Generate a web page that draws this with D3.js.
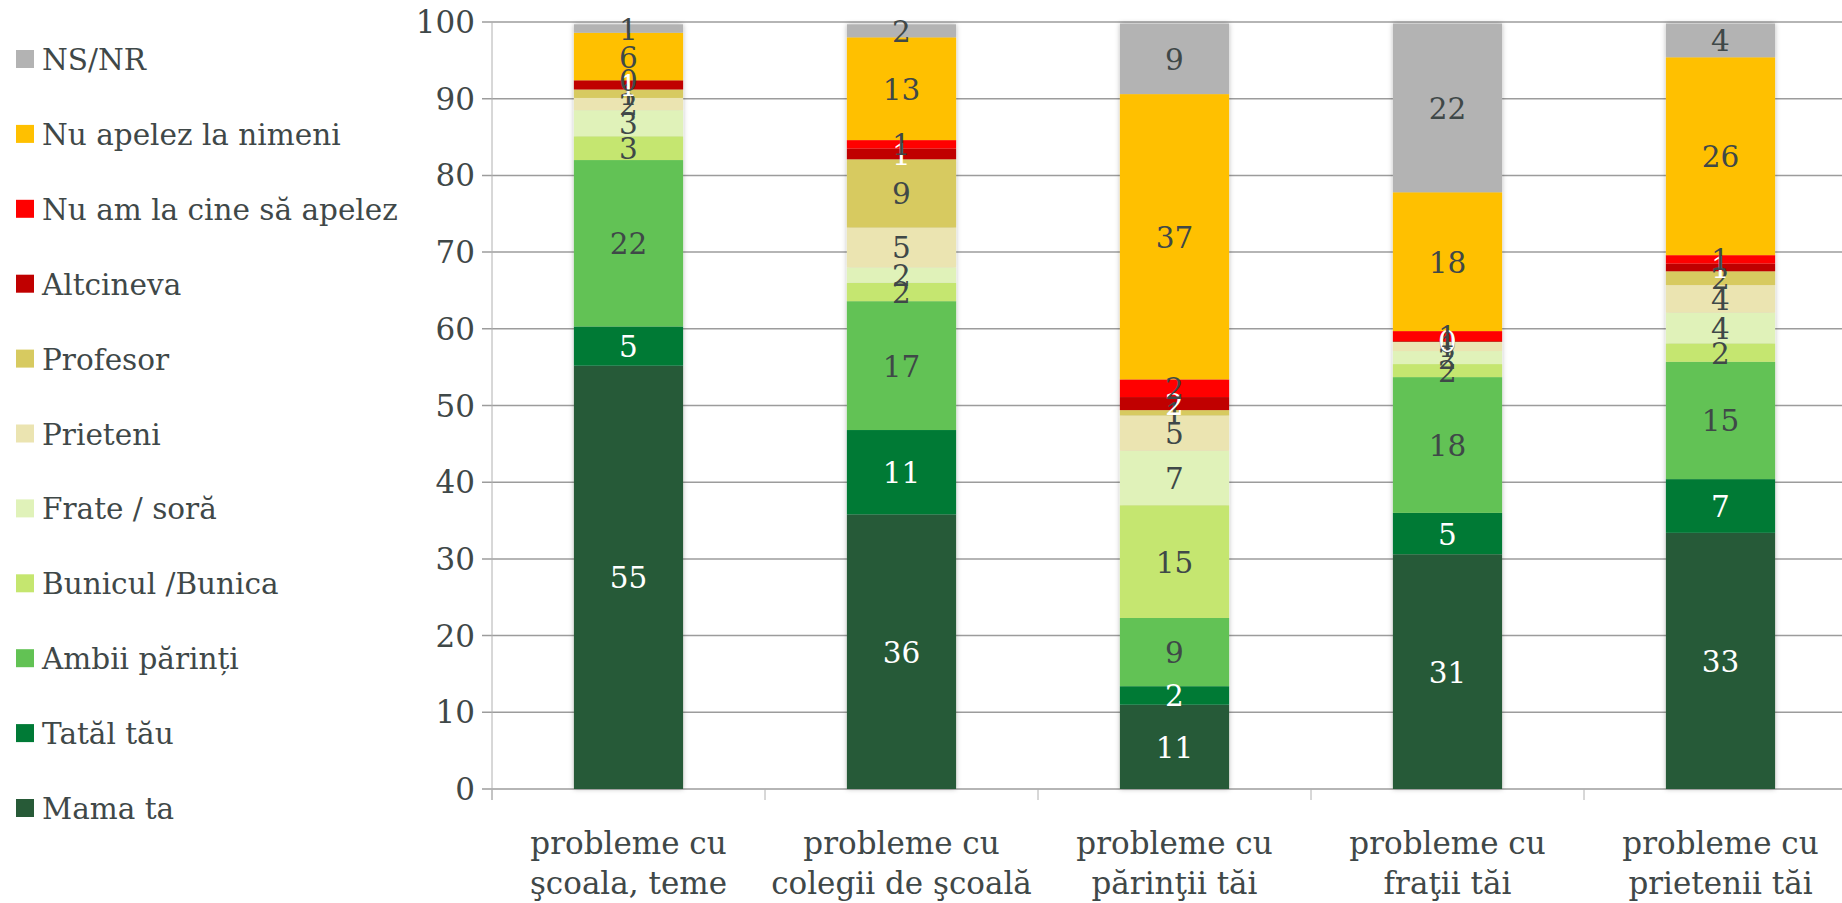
<!DOCTYPE html>
<html>
<head>
<meta charset="utf-8">
<script src="https://cdn.jsdelivr.net/npm/d3@7"></script>
<style>
  html, body { margin: 0; padding: 0; background: #ffffff; }
  svg { display: block; }
  text { font-family: "DejaVu Serif", "Liberation Serif", serif; }
</style>
</head>
<body>
<svg id="chart" width="1842" height="903"></svg>
<script>
// ---- Data ----
const categories = [
  "probleme cu\nşcoala, teme",
  "probleme cu\ncolegii de şcoală",
  "probleme cu\npărinţii tăi",
  "probleme cu\nfraţii tăi",
  "probleme cu\nprietenii tăi"
];
// series listed bottom -> top of the stack
const seriesNames = [
  "Mama ta", "Tatăl tău", "Ambii părinți", "Bunicul /Bunica", "Frate / soră",
  "Prieteni", "Profesor", "Altcineva", "Nu am la cine să apelez",
  "Nu apelez la nimeni", "NS/NR"
];
const mamaTa        = [55.2, 35.8, 11.0, 30.6, 33.4];
const tatalTau      = [5.1, 11.0, 2.4, 5.4, 7.0];
const ambiiParinti  = [21.7, 16.8, 8.9, 17.7, 15.3];
const bunicii       = [3.1, 2.4, 14.7, 1.7, 2.4];
const frateSora     = [3.4, 2.0, 7.1, 1.7, 4.0];
const prieteni      = [1.6, 5.2, 4.6, 1.2, 3.6];
const profesor      = [1.1, 8.9, 0.7, 0.0, 1.8];
const altcineva     = [1.2, 1.4, 1.7, 0.1, 1.0];
const nuAmLaCine    = [0.0, 1.1, 2.3, 1.3, 1.1];
const nuApelez      = [6.2, 13.4, 37.2, 18.1, 25.8];
const nsNr          = [1.1, 1.7, 9.2, 22.0, 4.4];
const seriesValues = [mamaTa, tatalTau, ambiiParinti, bunicii, frateSora,
  prieteni, profesor, altcineva, nuAmLaCine, nuApelez, nsNr];
const seriesColors = ["#275a37", "#007a36", "#62c254", "#c5e66f", "#e0f2b9",
  "#ebe4b1", "#d7ca60", "#c00000", "#ff0000", "#ffc000", "#b3b3b3"];
const whiteLabelSeries = ["Mama ta", "Tatăl tău", "Altcineva"];
const yTicks = [0, 10, 20, 30, 40, 50, 60, 70, 80, 90, 100];

// ---- Build table ----
const table = categories.map((c, i) => {
  const row = { cat: c };
  seriesNames.forEach((s, k) => { row[s] = seriesValues[k][i]; });
  return row;
});
const stacked = d3.stack().keys(seriesNames)(table);

const textColor = "#3f4848";
const svg = d3.select("#chart");

const x = d3.scaleBand().domain(categories).range([492, 1857])
  .paddingInner(0.6).paddingOuter(0.3);
const y = d3.scaleLinear().domain([0, 100]).range([789, 22]);

// drop shadow filter
const defs = svg.append("defs");
const f = defs.append("filter").attr("id", "shadow")
  .attr("x", "-20%").attr("y", "-5%").attr("width", "140%").attr("height", "110%");
f.append("feDropShadow").attr("dx", 0).attr("dy", 0).attr("stdDeviation", 2.5)
  .attr("flood-color", "#000").attr("flood-opacity", 0.28);

// gridlines
svg.append("g").selectAll("line").data(yTicks).join("line")
  .attr("x1", 482).attr("x2", 1842)
  .attr("y1", d => y(d)).attr("y2", d => y(d))
  .attr("stroke", "#9c9c9c").attr("stroke-width", 1.5);

// y axis line
svg.append("line").attr("x1", 492).attr("x2", 492)
  .attr("y1", y(100)).attr("y2", 800)
  .attr("stroke", "#b0b0b0").attr("stroke-width", 1);

// category separator ticks
const step = x.step();
svg.append("g").selectAll("line").data(d3.range(categories.length + 1)).join("line")
  .attr("x1", i => x.range()[0] + i * step).attr("x2", i => x.range()[0] + i * step)
  .attr("y1", y(0)).attr("y2", 800)
  .attr("stroke", "#b0b0b0").attr("stroke-width", 1);

// y tick labels
svg.append("g").selectAll("text").data(yTicks).join("text")
  .attr("x", 475).attr("y", d => y(d) + 11)
  .attr("text-anchor", "end")
  .attr("font-size", 31).attr("fill", textColor)
  .text(d => d);

// bars
const barsG = svg.append("g").attr("filter", "url(#shadow)");
stacked.forEach((layer, k) => {
  barsG.append("g").attr("fill", seriesColors[k])
    .selectAll("rect").data(layer).join("rect")
    .attr("x", d => x(d.data.cat))
    .attr("width", x.bandwidth())
    .attr("y", d => y(d[1]))
    .attr("height", d => Math.max(0, y(d[0]) - y(d[1])));
});

// data labels
const fmt = d3.format(".0f");
stacked.forEach((layer, k) => {
  const name = seriesNames[k];
  svg.append("g").selectAll("text").data(layer).join("text")
    .attr("x", d => x(d.data.cat) + x.bandwidth() / 2)
    .attr("y", d => (y(d[0]) + y(d[1])) / 2 + 11)
    .attr("text-anchor", "middle")
    .attr("font-size", 29.5)
    .attr("fill", whiteLabelSeries.includes(name) ? "#ffffff" : textColor)
    .text(d => fmt(d[1] - d[0]));
});

// x category labels
categories.forEach(c => {
  const lines = c.split("\n");
  const cx = x(c) + x.bandwidth() / 2;
  const t = svg.append("text")
    .attr("x", cx)
    .attr("y", 854)
    .attr("text-anchor", "middle")
    .attr("font-size", 31).attr("fill", textColor);
  lines.forEach((ln, i) => {
    t.append("tspan").attr("x", cx)
      .attr("y", 854 + i * 40).text(ln);
  });
});

// legend (top to bottom: reverse of stack order)
const legendNames = seriesNames.slice().reverse();
const legendColors = seriesColors.slice().reverse();
const lg = svg.append("g");
legendNames.forEach((n, i) => {
  const cy = 59 + i * 74.9;
  lg.append("rect").attr("x", 16).attr("y", cy - 9).attr("width", 18).attr("height", 18)
    .attr("fill", legendColors[i]);
  lg.append("text").attr("x", 42).attr("y", cy + 11)
    .attr("font-size", 29.5).attr("fill", textColor).text(n);
});
</script>
</body>
</html>
